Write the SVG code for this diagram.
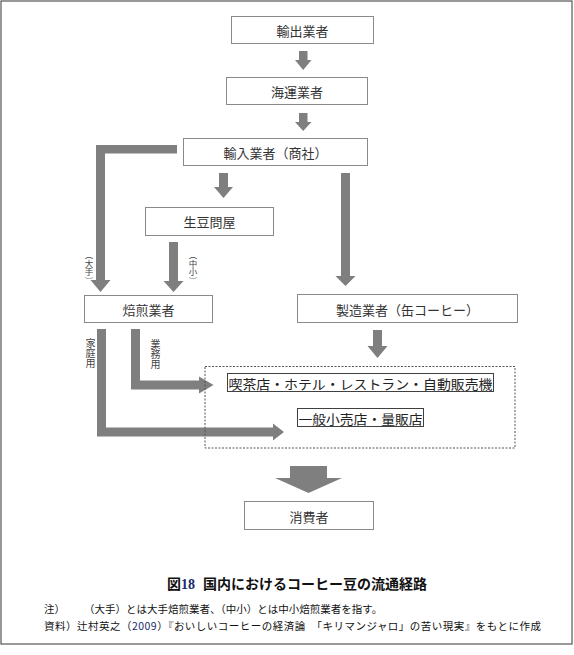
<svg xmlns="http://www.w3.org/2000/svg" width="574" height="655" viewBox="0 0 574 655">
<style>
.box{fill:#fff;stroke:#8a8a8a;stroke-width:1}
.tbox{fill:#fff;stroke:#404040;stroke-width:1}
.lbl{font-family:"Noto Sans CJK JP","Noto Sans",sans-serif;font-size:13px;fill:#333;text-anchor:middle;dominant-baseline:central}
.vt{font-family:"Noto Sans CJK JP",sans-serif;font-size:8.5px;fill:#444;writing-mode:vertical-rl}
.vt2{font-family:"Noto Sans CJK JP",sans-serif;font-size:10px;fill:#444;writing-mode:vertical-rl}
.arr{fill:#7f7f7f;stroke:none}
.note{font-family:"Noto Sans CJK JP",sans-serif;font-size:10.5px;fill:#111}
.cap{font-family:"Noto Sans CJK JP",sans-serif;font-size:14px;font-weight:bold;fill:#111}
</style>
<rect x="0" y="0" width="574" height="655" fill="#fff"/>
<rect x="1" y="1" width="571" height="643" fill="#fff" stroke="#555" stroke-width="1.2"/>

<g id="connectors">
  <polygon class="arr" points="299,51 307.5,51 307.5,60 311.5,60 303.2,70 295,60 299,60"/>
  <polygon class="arr" points="299,113 307.5,113 307.5,122 311.5,122 303.2,131 295,122 299,122"/>
  <polygon class="arr" points="177,145 96,145 96,280 90.5,280 100.5,292 110.5,280 105,280 105,153.5 177,153.5"/>
  <polygon class="arr" points="219,173 228,173 228,187 233,187 223.5,198 214,187 219,187"/>
  <polygon class="arr" points="169,242 178,242 178,281 183.5,281 173.5,292 163.5,281 169,281"/>
  <polygon class="arr" points="341,173 350,173 350,276 355.5,276 345.5,286 335.5,276 341,276"/>
  <polygon class="arr" points="373,330 382,330 382,346 387.5,346 377.5,358 367.5,346 373,346"/>
  <polygon class="arr" points="131,329 140,329 140,380.5 199,380.5 199,376.5 213.5,385 199,393.5 199,389.5 131,389.5"/>
  <polygon class="arr" points="97,329 106,329 106,427.5 273,427.5 273,423.5 284,432 273,440.5 273,436.5 97,436.5"/>
  <polygon class="arr" points="290,466 327,466 327,478 342,478 308.5,493 275,478 290,478"/>
</g>

<g id="n-exporter"><rect class="box" x="231.5" y="16.5" width="142" height="27"/><text class="lbl" x="302.5" y="30.5">輸出業者</text></g>
<g id="n-shipping"><rect class="box" x="226.5" y="77.5" width="141" height="27"/><text class="lbl" x="297" y="91.5">海運業者</text></g>
<g id="n-importer"><rect class="box" x="183.5" y="138.5" width="184" height="27"/><text class="lbl" x="275.5" y="152.5">輸入業者（商社）</text></g>
<g id="n-greenbean"><rect class="box" x="145.5" y="207.5" width="128" height="28"/><text class="lbl" x="209.5" y="221.5">生豆問屋</text></g>
<g id="n-roaster"><rect class="box" x="84.5" y="295.5" width="128" height="27"/><text class="lbl" x="148.5" y="309.5">焙煎業者</text></g>
<g id="n-maker"><rect class="box" x="297.5" y="294.5" width="220" height="28"/><text class="lbl" x="407.5" y="309">製造業者（缶コーヒー）</text></g>

<g id="n-outlets">
  <rect x="205" y="366.5" width="310" height="81.5" fill="none" stroke="#555" stroke-width="1" stroke-dasharray="2,1.5"/>
  <g id="n-cafe"><rect class="tbox" x="227.5" y="373.5" width="266" height="18"/><text class="lbl" x="360.5" y="383" textLength="264" lengthAdjust="spacingAndGlyphs" style="fill:#222">喫茶店・ホテル・レストラン・自動販売機</text></g>
  <g id="n-retail"><rect class="tbox" x="297.5" y="408.5" width="126" height="18"/><text class="lbl" x="360.5" y="418" textLength="124" lengthAdjust="spacingAndGlyphs" style="fill:#222">一般小売店・量販店</text></g>
</g>

<g id="n-consumer"><rect class="box" x="244.5" y="501.5" width="129" height="28"/><text class="lbl" x="309" y="516">消費者</text></g>

<g id="edge-labels">
  <text class="vt" x="89" y="251">（大手）</text>
  <text class="vt" x="193" y="251">（中小）</text>
  <text class="vt2" x="90.5" y="338">家庭用</text>
  <text class="vt2" x="155.5" y="339">業務用</text>
</g>

<g id="caption">
  <text class="cap" x="167" y="589">図<tspan fill="#1a2a6c" font-family="Liberation Serif,serif">18</tspan><tspan dx="8">国内におけるコーヒー豆の流通経路</tspan></text>
  <text class="note" x="44" y="613">注）</text>
  <text class="note" x="84" y="613">（大手）とは大手焙煎業者、（中小）とは中小焙煎業者を指す。</text>
  <text class="note" x="44" y="630" textLength="497" lengthAdjust="spacing">資料）辻村英之（<tspan fill="#1a2a6c">2009</tspan>）『おいしいコーヒーの経済論　「キリマンジャロ」の苦い現実』をもとに作成</text>
</g>
</svg>
